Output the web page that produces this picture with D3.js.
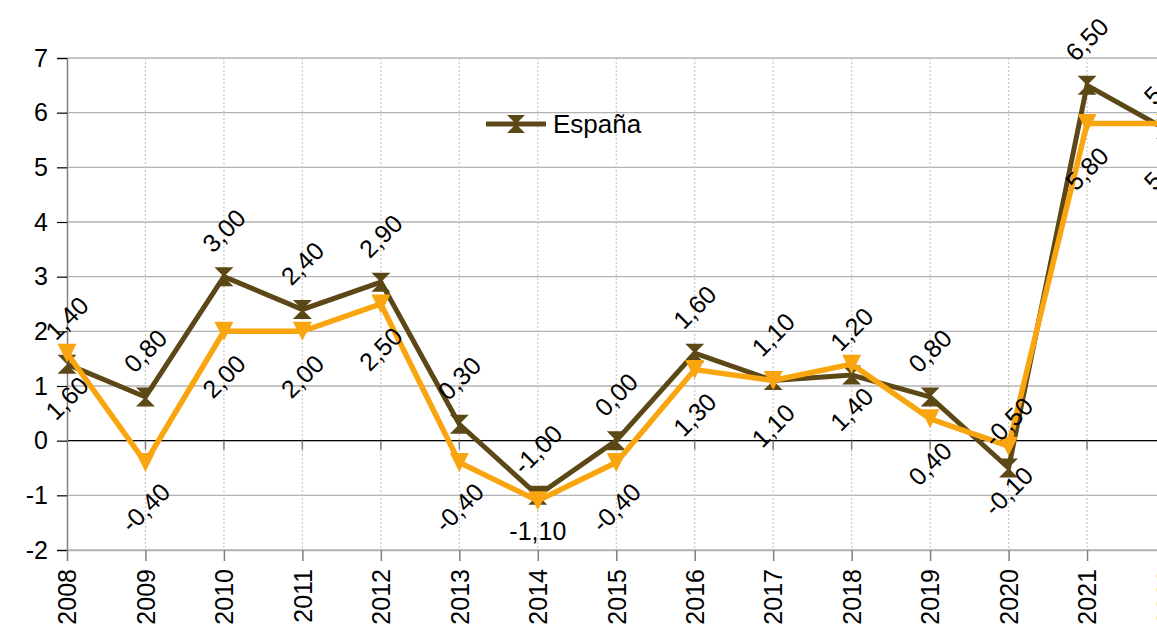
<!DOCTYPE html>
<html>
<head>
<meta charset="utf-8">
<script src="https://cdn.jsdelivr.net/npm/d3@7"></script>
<style>
  body { margin: 0; background: #fff; }
  svg text { font-family: "Liberation Sans", Arial, sans-serif; fill: #000; }
</style>
</head>
<body>
<div id="chart"></div>
<script>
var years = ["2008", "2009", "2010", "2011", "2012", "2013", "2014", "2015", "2016", "2017", "2018", "2019", "2020", "2021", "2022"];
var espana = [1.40, 0.80, 3.00, 2.40, 2.90, 0.30, -1.00, 0.00, 1.60, 1.10, 1.20, 0.80, -0.50, 6.50, 5.70];
var other = [1.60, -0.40, 2.00, 2.00, 2.50, -0.40, -1.10, -0.40, 1.30, 1.10, 1.40, 0.40, -0.10, 5.80, 5.80];
var yTicks = [-2, -1, 0, 1, 2, 3, 4, 5, 6, 7];
var seriesNames = ["España", ""];

var W = 1157, H = 626;
var brown = "#5c4716", orange = "#f9a510";

var svg = d3.select("#chart").append("svg").attr("width", W).attr("height", H);

var x = d3.scalePoint().domain(years).range([67, 1165.5]);
var y = d3.scaleLinear().domain([-2, 7]).range([550, 58]);

var fmt = function (v) { return v.toFixed(2).replace(".", ","); };

// horizontal grid
svg.append("g").selectAll("line").data(yTicks).enter().append("line")
  .attr("x1", 67).attr("x2", W)
  .attr("y1", function (d) { return y(d); }).attr("y2", function (d) { return y(d); })
  .attr("stroke", "#b3b3b3").attr("stroke-width", 1.3);

// vertical dotted grid
svg.append("g").selectAll("line").data(years.slice(1)).enter().append("line")
  .attr("x1", function (d) { return x(d); }).attr("x2", function (d) { return x(d); })
  .attr("y1", 58).attr("y2", 550)
  .attr("stroke", "#c8c8c8").attr("stroke-width", 1.2).attr("stroke-dasharray", "2,2");

// zero line with small ticks
svg.append("line").attr("x1", 67).attr("x2", W).attr("y1", y(0)).attr("y2", y(0))
  .attr("stroke", "#000").attr("stroke-width", 1.2);
svg.append("g").selectAll("line").data(years.slice(1)).enter().append("line")
  .attr("x1", function (d) { return x(d); }).attr("x2", function (d) { return x(d); })
  .attr("y1", y(0)).attr("y2", y(0) + 9)
  .attr("stroke", "#808080").attr("stroke-width", 1.5);

// y axis
var yAxis = svg.append("g").attr("transform", "translate(67,0)")
  .call(d3.axisLeft(y).tickValues(yTicks).tickSize(10).tickPadding(9)
    .tickFormat(function (d) { return String(d); }));
yAxis.select(".domain").attr("stroke", "#808080").attr("stroke-width", 1.5);
yAxis.selectAll(".tick line").attr("stroke", "#000").attr("stroke-width", 1.2);
yAxis.selectAll("text").style("font-size", "25px");

// x axis
var xAxis = svg.append("g").attr("transform", "translate(0,550)")
  .call(d3.axisBottom(x).tickSize(11).tickPadding(6));
xAxis.select(".domain").attr("stroke", "#b3b3b3").attr("stroke-width", 1.3);
xAxis.selectAll(".tick line").attr("stroke", "#808080").attr("stroke-width", 1.5);
xAxis.selectAll("text")
  .style("font-size", "25px")
  .attr("text-anchor", "end")
  .attr("dy", "0.35em")
  .attr("transform", "rotate(-90) translate(-19,0)")
  .attr("x", 0).attr("y", 0);

var line = d3.line()
  .x(function (d, i) { return x(years[i]); })
  .y(function (d) { return y(d); });

// markers
function hourglass(g, cx, cy, s, color) {
  g.append("path")
    .attr("d", "M" + (cx - s) + "," + (cy - s) + "L" + (cx + s) + "," + (cy - s) + "L" + (cx - s) + "," + (cy + s) +
      "L" + (cx + s) + "," + (cy + s) + "Z")
    .attr("fill", color);
}
function triDown(g, cx, cy, s, color) {
  g.append("path")
    .attr("d", "M" + (cx - s) + "," + (cy - s) + "L" + (cx + s) + "," + (cy - s) + "L" + cx + "," + (cy + s) + "Z")
    .attr("fill", color);
}

var gBrown = svg.append("g");
gBrown.append("path").datum(espana).attr("d", line)
  .attr("fill", "none").attr("stroke", brown).attr("stroke-width", 5).attr("stroke-linejoin", "miter");
espana.forEach(function (v, i) {
  hourglass(gBrown, x(years[i]), y(v), 9.5, brown);
});

var gOrange = svg.append("g");
gOrange.append("path").datum(other).attr("d", line)
  .attr("fill", "none").attr("stroke", orange).attr("stroke-width", 5.5).attr("stroke-linejoin", "miter");
other.forEach(function (v, i) {
  triDown(gOrange, x(years[i]), y(v), 9.5, orange);
});

// data labels
var gLab = svg.append("g").style("font-size", "25px");
espana.forEach(function (v, i) {
  gLab.append("text")
    .attr("text-anchor", "middle").attr("dy", "0.35em")
    .attr("transform", "translate(" + x(years[i]) + "," + (y(v) - 46) + ") rotate(-45)")
    .text(fmt(v));
});
other.forEach(function (v, i) {
  var t = gLab.append("text").attr("text-anchor", "middle").attr("dy", "0.35em").text(fmt(v));
  if (years[i] === "2014") {
    t.attr("transform", "translate(" + x(years[i]) + "," + (y(v) + 30) + ")");
  } else {
    t.attr("transform", "translate(" + x(years[i]) + "," + (y(v) + 45) + ") rotate(-45)");
  }
});

// legend
var lg = svg.append("g").attr("transform", "translate(486,124)");
lg.append("line").attr("x1", 0).attr("x2", 60).attr("y1", 0).attr("y2", 0)
  .attr("stroke", brown).attr("stroke-width", 5);
hourglass(lg, 30, 0, 9, brown);
lg.append("text").attr("x", 67).attr("y", 0).attr("dy", "0.35em")
  .style("font-size", "26px").text(seriesNames[0]);
</script>
</body>
</html>
